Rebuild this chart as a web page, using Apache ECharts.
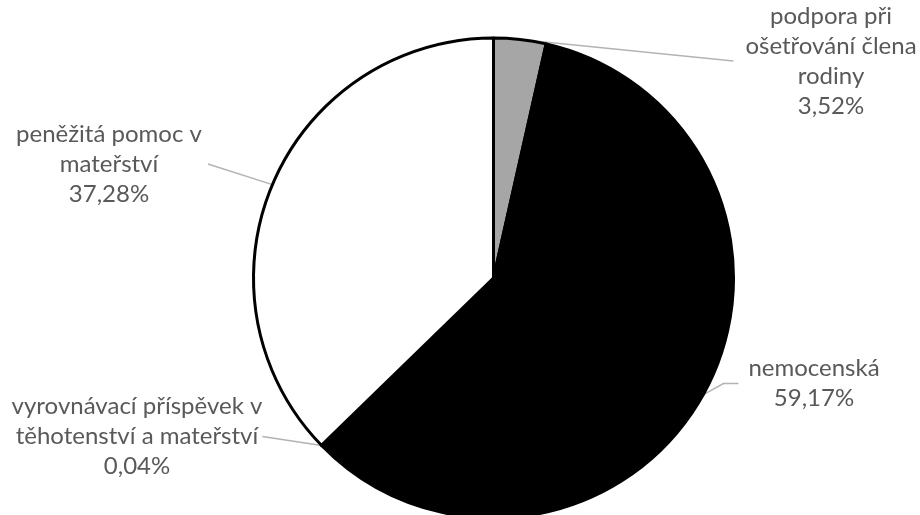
<!DOCTYPE html>
<html>
<head>
<meta charset="utf-8">
<script src="https://cdn.jsdelivr.net/npm/echarts@6/dist/echarts.min.js"></script>
<style>
html,body{margin:0;padding:0;background:#fff;}
#chart{width:920px;height:515px;}
</style>
</head>
<body>
<div id="chart"></div>
<script>
// Data
const categories = [
  'podpora při ošetřování člena rodiny',
  'nemocenská',
  'vyrovnávací příspěvek v těhotenství a mateřství',
  'peněžitá pomoc v mateřství'
];
const labelText = [
  'podpora při\nošetřování člena\nrodiny',
  'nemocenská',
  'vyrovnávací příspěvek v\ntěhotenství a mateřství',
  'peněžitá pomoc v\nmateřství'
];
const values = [3.52, 59.17, 0.04, 37.28];
const sliceColors = ['#a6a6a6', '#000000', '#000000', '#ffffff'];

// Label placement (layout only)
const labelPos = [
  {x: 825, y: 61, padding: [23, 0, 0, 12]},
  {x: 809, y: 383.5, padding: [17, 0, 0, 10], length2: 15},
  {x: 137, y: 436.5, padding: [0, 0, 13, 0]},
  {x: 112, y: 164, padding: [57, 6, 0, 0]}
];

const chart = echarts.init(document.getElementById('chart'), null, {renderer: 'canvas'});

const seriesData = categories.map((c, i) => ({
  name: c,
  value: values[i],
  itemStyle: {color: sliceColors[i]},
  label: {padding: labelPos[i].padding},
  labelLine: {length2: labelPos[i].length2 || 0}
}));

chart.setOption({
  backgroundColor: '#ffffff',
  animation: false,
  series: [{
    type: 'pie',
    center: [493.5, 278],
    radius: 240,
    startAngle: 90,
    clockwise: true,
    minAngle: 0,
    avoidLabelOverlap: false,
    itemStyle: {borderColor: '#000000', borderWidth: 3},
    label: {
      show: true,
      position: 'outside',
      color: '#595959',
      fontFamily: 'Lato',
      fontSize: 24,
      lineHeight: 30,
      align: 'center',
      formatter: p => labelText[p.dataIndex] + '\n' + p.value.toFixed(2).replace('.', ',') + '%'
    },
    labelLine: {
      show: true,
      length: 10,
      length2: 0,
      smooth: false,
      lineStyle: {color: '#b3b3b3', width: 1.5}
    },
    labelLayout: function (params) {
      const p = labelPos[params.dataIndex];
      return {x: p.x, y: p.y, align: 'center', verticalAlign: 'middle'};
    },
    emphasis: {disabled: true},
    data: seriesData
  }]
});
</script>
</body>
</html>
